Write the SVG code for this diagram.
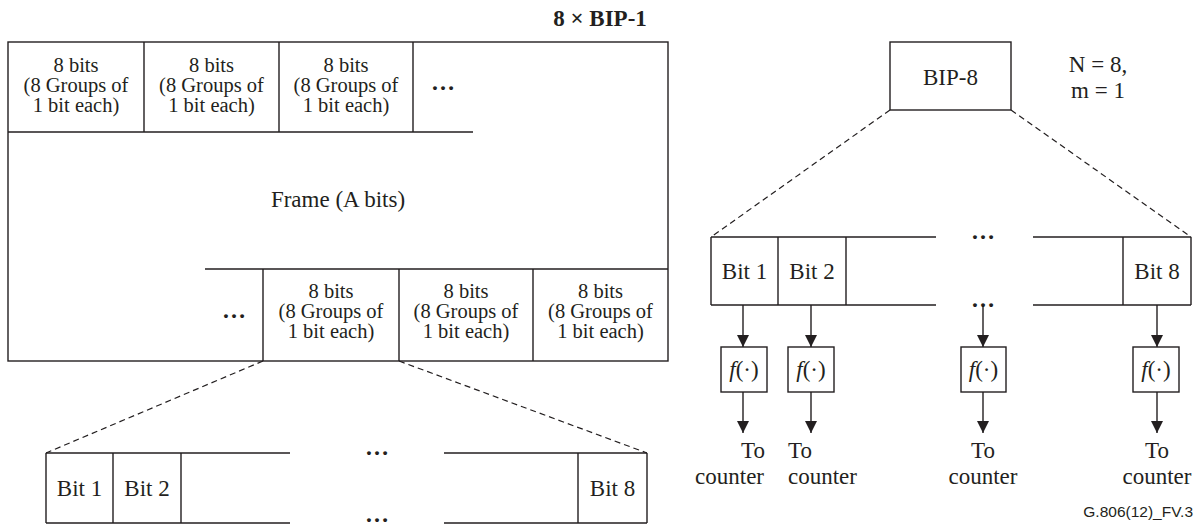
<svg xmlns="http://www.w3.org/2000/svg" width="1202" height="526" viewBox="0 0 1202 526">
<defs>
<style>
.ln{stroke:#231f20;stroke-width:1.4;fill:none}
.bx{stroke:#231f20;stroke-width:1.4;fill:#fff}
.ds{stroke:#231f20;stroke-width:1.2;fill:none;stroke-dasharray:6 4}
.t{font-family:"Liberation Serif","Times New Roman",serif;font-size:23px;fill:#231f20}
.c{font-family:"Liberation Serif","Times New Roman",serif;font-size:20.5px;fill:#231f20;text-anchor:middle}
.m{text-anchor:middle}
.e{text-anchor:end}
.dot{font-family:"Liberation Serif","Times New Roman",serif;font-size:24px;font-weight:bold;fill:#231f20;text-anchor:middle}
.sf{font-family:"Liberation Sans",Arial,sans-serif;font-size:15.5px;fill:#231f20;text-anchor:end}
</style>
<marker id="ah" viewBox="0 0 12 12" refX="12" refY="6" markerWidth="12" markerHeight="12" markerUnits="userSpaceOnUse" orient="auto">
<path d="M0,0 L12,6 L0,12 Z" fill="#231f20"/>
</marker>
</defs>
<rect width="1202" height="526" fill="#fff"/>

<text class="t m" x="600" y="26" font-weight="bold" font-size="22px">8 × BIP-1</text>

<g id="frame">
<rect class="ln" x="8" y="42" width="660" height="319"/>
<path class="ln" d="M8,132 H473 M144,42 V132 M279,42 V132 M413,42 V132"/>
<path class="ln" d="M205,269 H668 M263,269 V361 M399,269 V361 M533,269 V361"/>
<text class="t m" x="338" y="207">Frame (A bits)</text>
</g>

<g id="top-cell-1">
<text class="c" x="76" y="72">8 bits</text>
<text class="c" x="76" y="92">(8 Groups of</text>
<text class="c" x="76" y="112">1 bit each)</text>
</g>
<g id="top-cell-2">
<text class="c" x="211.5" y="72">8 bits</text>
<text class="c" x="211.5" y="92">(8 Groups of</text>
<text class="c" x="211.5" y="112">1 bit each)</text>
</g>
<g id="top-cell-3">
<text class="c" x="346" y="72">8 bits</text>
<text class="c" x="346" y="92">(8 Groups of</text>
<text class="c" x="346" y="112">1 bit each)</text>
</g>
<g id="top-cell-dots"><text class="dot" x="443" y="90">…</text></g>

<g id="bot-cell-dots"><text class="dot" x="234" y="318">…</text></g>
<g id="bot-cell-1">
<text class="c" x="331" y="298">8 bits</text>
<text class="c" x="331" y="318">(8 Groups of</text>
<text class="c" x="331" y="338">1 bit each)</text>
</g>
<g id="bot-cell-2">
<text class="c" x="466" y="298">8 bits</text>
<text class="c" x="466" y="318">(8 Groups of</text>
<text class="c" x="466" y="338">1 bit each)</text>
</g>
<g id="bot-cell-3">
<text class="c" x="600.5" y="298">8 bits</text>
<text class="c" x="600.5" y="318">(8 Groups of</text>
<text class="c" x="600.5" y="338">1 bit each)</text>
</g>

<g id="left-bits">
<path class="ln" d="M46,453 H290 M444,453 H647 M46,523 H290 M444,523 H647 M46,453 V523 M113,453 V523 M181,453 V523 M578,453 V523 M647,453 V523"/>
<text class="t m" x="79.5" y="496">Bit 1</text>
<text class="t m" x="147" y="496">Bit 2</text>
<text class="t m" x="612.5" y="496">Bit 8</text>
<text class="dot" x="377" y="455">…</text>
<text class="dot" x="377" y="521.5" font-size="20px">…</text>
</g>

<g id="bip8">
<rect class="bx" x="890" y="42" width="121" height="68"/>
<text class="t m" x="950.5" y="85">BIP-8</text>
</g>
<g id="params">
<text class="t m" x="1098" y="72">N = 8,</text>
<text class="t m" x="1098" y="98">m = 1</text>
</g>

<g id="right-bits">
<path class="ln" d="M711,237 H936 M1033,237 H1191 M711,305 H936 M1033,305 H1191 M711,237 V305 M778,237 V305 M846,237 V305 M1123,237 V305 M1191,237 V305"/>
<text class="t m" x="744.5" y="279">Bit 1</text>
<text class="t m" x="812" y="279">Bit 2</text>
<text class="t m" x="1157" y="279">Bit 8</text>
<text class="dot" x="983" y="239">…</text>
<text class="dot" x="983" y="307">…</text>
</g>

<g id="f1"><rect class="bx" x="721" y="347" width="46" height="45"/><text class="t m" x="744" y="377"><tspan font-style="italic">f</tspan>(·)</text></g>
<g id="f2"><rect class="bx" x="788" y="347" width="46" height="45"/><text class="t m" x="811" y="377"><tspan font-style="italic">f</tspan>(·)</text></g>
<g id="f3"><rect class="bx" x="961" y="347" width="45" height="45"/><text class="t m" x="983.5" y="377"><tspan font-style="italic">f</tspan>(·)</text></g>
<g id="f4"><rect class="bx" x="1133" y="347" width="46" height="45"/><text class="t m" x="1156" y="377"><tspan font-style="italic">f</tspan>(·)</text></g>

<g id="out-labels">
<text class="t e" x="765" y="458">To</text>
<text class="t e" x="764" y="484">counter</text>
<text class="t" x="788" y="458">To</text>
<text class="t" x="788" y="484">counter</text>
<text class="t m" x="983" y="458">To</text>
<text class="t m" x="983" y="484">counter</text>
<text class="t m" x="1157" y="458">To</text>
<text class="t m" x="1157" y="484">counter</text>
</g>

<g id="connectors">
<path class="ds" d="M263,361 L46,453"/>
<path class="ds" d="M399,361 L647,453"/>
<path class="ds" d="M890,110 L711,237"/>
<path class="ds" d="M1011,110 L1191,237"/>
<path class="ln" d="M743,305 V347" marker-end="url(#ah)"/>
<path class="ln" d="M811,305 V347" marker-end="url(#ah)"/>
<path class="ln" d="M983,305 V347" marker-end="url(#ah)"/>
<path class="ln" d="M1157,305 V347" marker-end="url(#ah)"/>
<path class="ln" d="M743,392 V433" marker-end="url(#ah)"/>
<path class="ln" d="M811,392 V433" marker-end="url(#ah)"/>
<path class="ln" d="M983,392 V433" marker-end="url(#ah)"/>
<path class="ln" d="M1157,392 V433" marker-end="url(#ah)"/>
</g>

<text class="sf" x="1193" y="517">G.806(12)_FV.3</text>
</svg>
